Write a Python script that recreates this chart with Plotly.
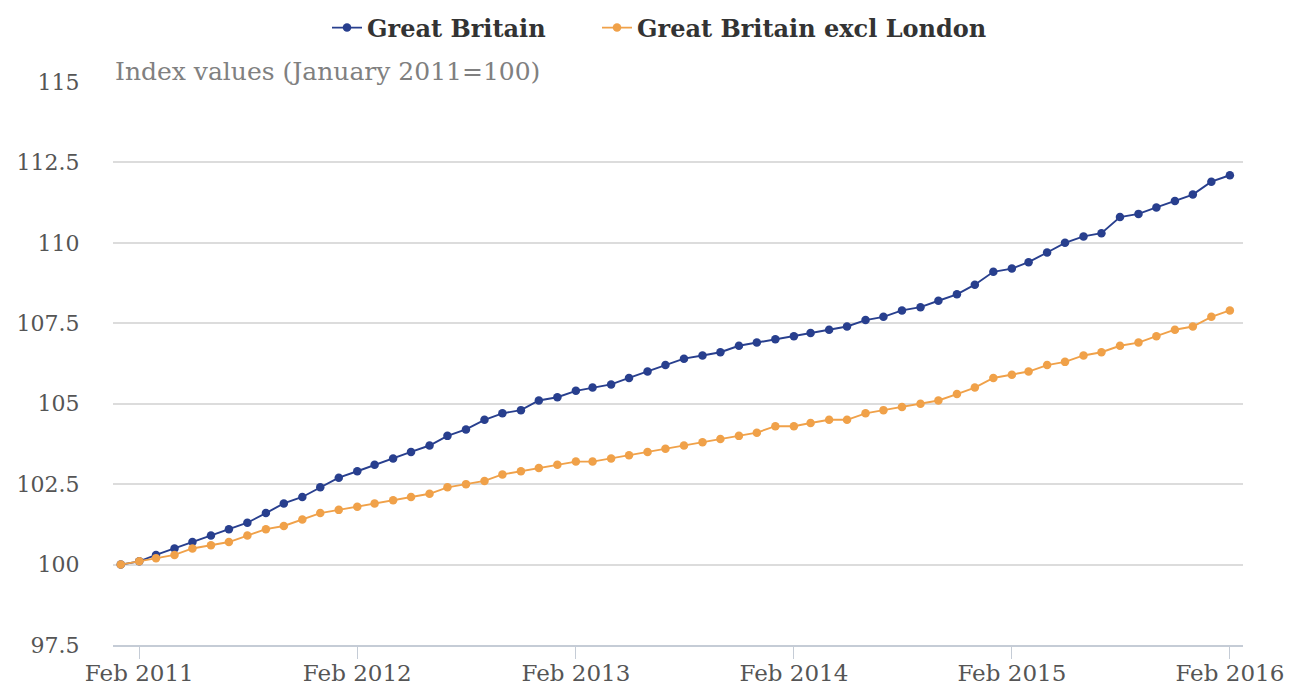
import plotly.graph_objects as go

# Monthly index, January 2011 = 100
months = [f"{2011 + (i // 12)}-{(i % 12) + 1:02d}-01" for i in range(62)]

great_britain = [
    100.0, 100.1, 100.3, 100.5, 100.7, 100.9, 101.1, 101.3, 101.6, 101.9,
    102.1, 102.4, 102.7, 102.9, 103.1, 103.3, 103.5, 103.7, 104.0, 104.2,
    104.5, 104.7, 104.8, 105.1, 105.2, 105.4, 105.5, 105.6, 105.8, 106.0,
    106.2, 106.4, 106.5, 106.6, 106.8, 106.9, 107.0, 107.1, 107.2, 107.3,
    107.4, 107.6, 107.7, 107.9, 108.0, 108.2, 108.4, 108.7, 109.1, 109.2,
    109.4, 109.7, 110.0, 110.2, 110.3, 110.8, 110.9, 111.1, 111.3, 111.5,
    111.9, 112.1,
]

gb_excl_london = [
    100.0, 100.1, 100.2, 100.3, 100.5, 100.6, 100.7, 100.9, 101.1, 101.2,
    101.4, 101.6, 101.7, 101.8, 101.9, 102.0, 102.1, 102.2, 102.4, 102.5,
    102.6, 102.8, 102.9, 103.0, 103.1, 103.2, 103.2, 103.3, 103.4, 103.5,
    103.6, 103.7, 103.8, 103.9, 104.0, 104.1, 104.3, 104.3, 104.4, 104.5,
    104.5, 104.7, 104.8, 104.9, 105.0, 105.1, 105.3, 105.5, 105.8, 105.9,
    106.0, 106.2, 106.3, 106.5, 106.6, 106.8, 106.9, 107.1, 107.3, 107.4,
    107.7, 107.9,
]

x_tick_vals = ["2011-02-01", "2012-02-01", "2013-02-01", "2014-02-01", "2015-02-01", "2016-02-01"]
x_tick_text = ["Feb 2011", "Feb 2012", "Feb 2013", "Feb 2014", "Feb 2015", "Feb 2016"]
y_tick_vals = [97.5, 100, 102.5, 105, 107.5, 110, 112.5, 115]
y_tick_text = ["97.5", "100", "102.5", "105", "107.5", "110", "112.5", "115"]

BLUE = "#283f8e"
ORANGE = "#f0a149"
LEGEND_FONT = dict(family="DejaVu Serif", size=24, color="#333333", weight="bold")

fig = go.Figure()
fig.add_trace(go.Scatter(
    x=months, y=great_britain, name="Great Britain",
    mode="lines+markers",
    line=dict(color=BLUE, width=1.9),
    marker=dict(color=BLUE, size=8.5),
    legend="legend",
))
fig.add_trace(go.Scatter(
    x=months, y=gb_excl_london, name="Great Britain excl London",
    mode="lines+markers",
    line=dict(color=ORANGE, width=1.9),
    marker=dict(color=ORANGE, size=8.5),
    legend="legend2",
))

legend_common = dict(
    xref="paper", yref="container", xanchor="left",
    y=1 - 28 / 686, yanchor="middle",
    font=LEGEND_FONT, bgcolor="rgba(0,0,0,0)",
)

fig.update_layout(
    width=1296, height=686,
    margin=dict(l=113, r=53, t=81, b=41, autoexpand=False),
    paper_bgcolor="white", plot_bgcolor="white",
    showlegend=True,
    legend=dict(x=(327 - 113) / 1130, **legend_common),
    legend2=dict(x=(597 - 113) / 1130, **legend_common),
    xaxis=dict(
        type="date",
        range=["2010-12-19", "2016-02-23"],
        tickvals=x_tick_vals, ticktext=x_tick_text, tickangle=0,
        tickfont=dict(family="DejaVu Serif", size=23, color="#555555"),
        ticks="outside", ticklen=12, tickcolor="#c5ccd6", tickwidth=1,
        ticklabelstandoff=-6,
        showgrid=False, zeroline=False, automargin=False,
        showline=True, linecolor="#c5ccd6", linewidth=2,
    ),
    yaxis=dict(
        range=[97.5, 115.03],
        tickvals=y_tick_vals, ticktext=y_tick_text,
        tickfont=dict(family="DejaVu Serif", size=22, color="#555555"),
        ticks="outside", ticklen=28, tickcolor="rgba(0,0,0,0)",
        showgrid=True, gridcolor="#dcdcdc", gridwidth=1.5,
        zeroline=False, showline=False, automargin=False,
    ),
    annotations=[dict(
        text="Index values (January 2011=100)",
        xref="paper", yref="paper", x=0.0, y=1.0,
        xanchor="left", yanchor="middle", yshift=10, showarrow=False,
        font=dict(family="DejaVu Serif", size=25, color="#808080"),
    )],
)

fig.write_html("out.html")
